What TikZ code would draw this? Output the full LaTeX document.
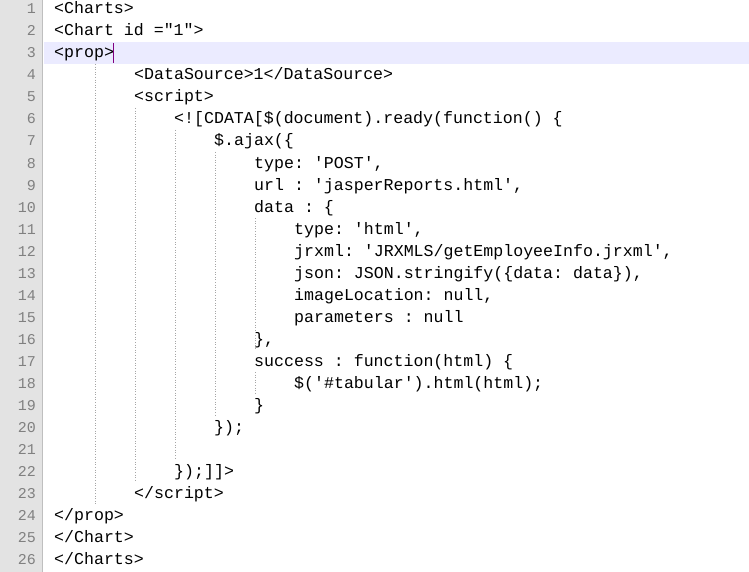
\documentclass[tikz,border=0pt]{standalone}
\usepackage{fontspec}
\setmonofont{Liberation Mono}
\begin{document}
\begin{tikzpicture}[x=1pt,y=-1pt,
  code/.style={anchor=base west,inner sep=0pt,font=\ttfamily\fontsize{16.6}{18}\selectfont,text=black},
  lnum/.style={anchor=base east,inner sep=0pt,font=\ttfamily\fontsize{15}{18}\selectfont,text=black!50},
  guide/.style={draw=black!35,dotted,line width=0.6pt}]
\useasboundingbox (0,0) rectangle (749,572);
\fill[white] (0,0) rectangle (749,572);
\fill[black!11] (0,0) rectangle (42,572);
\draw[black!25] (42,0) -- (42,572);
\fill[blue!8] (44,42) rectangle (749,64);
\draw[violet,line width=1pt] (113.5,43) -- (113.5,63);
\foreach \i in {1,...,26} { \node[lnum] (n\i) at (36,{14+22*(\i-1)}) {\i}; }
\newcommand\cl[3]{\node[code] (l#1) at ({54+10*#2},{14+22*(#1-1)}) {#3};}
\cl{1}{0}{<Charts>}
\cl{2}{0}{<Chart id ="1">}
\cl{3}{0}{<prop>}
\cl{4}{8}{<DataSource>1</DataSource>}
\cl{5}{8}{<script>}
\cl{6}{12}{<![CDATA[\$(document).ready(function() \{}
\cl{7}{16}{\$.ajax(\{}
\cl{8}{20}{type: 'POST',}
\cl{9}{20}{url : 'jasperReports.html',}
\cl{10}{20}{data : \{}
\cl{11}{24}{type: 'html',}
\cl{12}{24}{jrxml: 'JRXMLS/getEmployeeInfo.jrxml',}
\cl{13}{24}{json: JSON.stringify(\{data: data\}),}
\cl{14}{24}{imageLocation: null,}
\cl{15}{24}{parameters : null}
\cl{16}{20}{\},}
\cl{17}{20}{success : function(html) \{}
\cl{18}{24}{\$('\#tabular').html(html);}
\cl{19}{20}{\}}
\cl{20}{16}{\});}
\cl{22}{12}{\});]]>}
\cl{23}{8}{</script>}
\cl{24}{0}{</prop>}
\cl{25}{0}{</Chart>}
\cl{26}{0}{</Charts>}
\draw[guide] (95.5,64) -- (95.5,504);
\draw[guide] (135.5,108) -- (135.5,482);
\draw[guide] (175.5,130) -- (175.5,460);
\draw[guide] (215.5,152) -- (215.5,416);
\draw[guide] (255.5,218) -- (255.5,350);
\draw[guide] (255.5,372) -- (255.5,394);
\end{tikzpicture}
\end{document}
